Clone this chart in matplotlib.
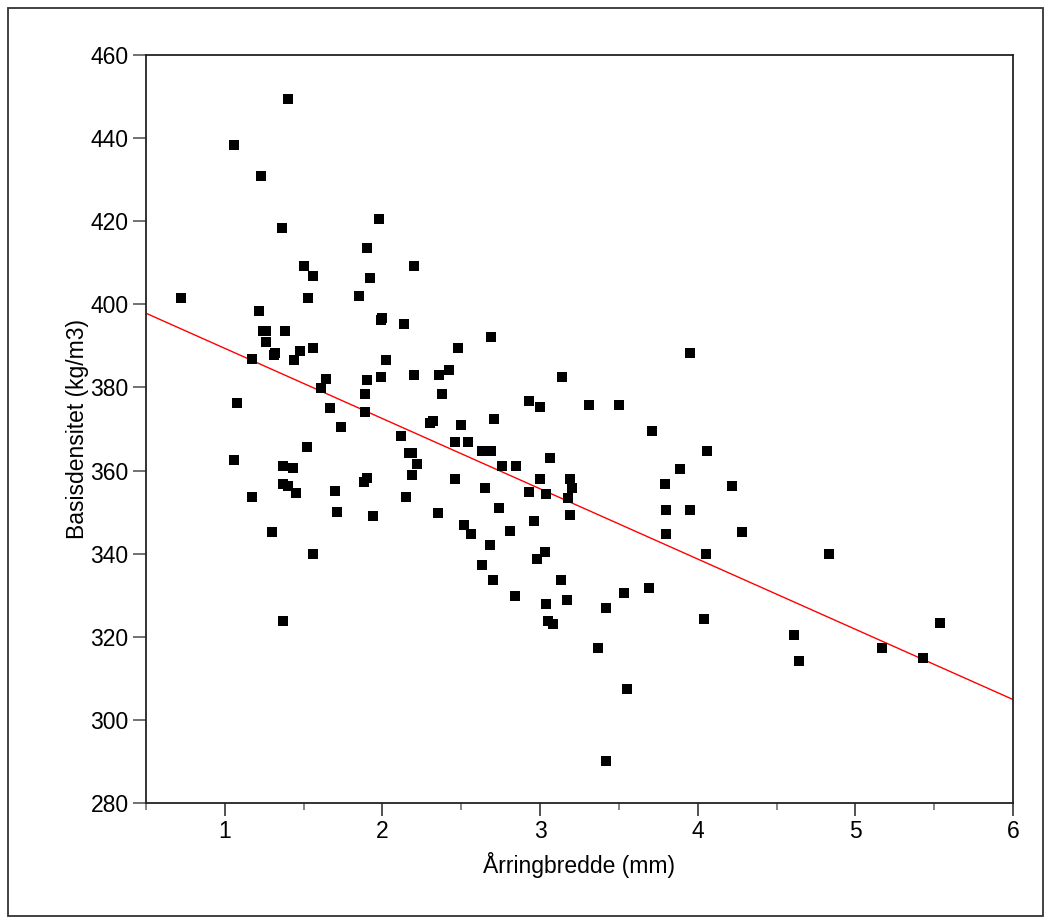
import matplotlib
matplotlib.use('Agg')
import matplotlib.pyplot as plt
from matplotlib.patches import Rectangle
import numpy as np

plt.rcParams['font.family'] = ['Liberation Sans', 'DejaVu Sans']

# Årringbredde (mm) vs basisdensitet (kg/m3)
arringbredde = [
    0.72, 1.06, 1.23, 1.40, 1.36, 1.22, 1.24, 1.26, 1.26, 1.17,
    1.31, 1.32, 1.38, 1.44, 1.48, 1.50, 1.56, 1.53, 1.56, 1.64,
    1.61, 1.67, 1.74, 1.52, 1.06, 1.08, 1.17, 1.37, 1.43, 1.37,
    1.40, 1.45, 1.30, 1.56, 1.37, 1.70, 1.71, 1.85, 1.90, 1.92,
    1.98, 1.99, 2.00, 2.02, 1.99, 1.90, 1.89, 1.89, 1.88, 1.90,
    1.94, 2.14, 2.20, 2.20, 2.12, 2.17, 2.19, 2.22, 2.19, 2.15,
    2.36, 2.42, 2.38, 2.30, 2.32, 2.48, 2.46, 2.50, 2.54, 2.46,
    2.35, 2.52, 2.56, 2.63, 2.68, 2.70, 2.69, 2.71, 2.63, 2.69,
    2.65, 2.74, 2.76, 2.85, 2.81, 2.84, 2.93, 3.00, 3.00, 2.93,
    2.96, 3.06, 3.04, 3.14, 3.19, 3.20, 3.18, 3.19, 2.98, 3.03,
    3.13, 3.04, 3.05, 3.08, 3.17, 3.31, 3.50, 3.37, 3.42, 3.53,
    3.55, 3.42, 3.69, 3.71, 3.95, 3.89, 3.79, 3.80, 3.80, 3.95,
    4.06, 4.05, 4.04, 4.22, 4.28, 4.61, 4.64, 4.83, 5.17, 5.43,
    5.54,
]
basisdensitet = [
    401.6, 438.4, 430.9, 449.5, 418.4, 398.5, 393.6, 393.6, 390.9, 386.9,
    387.9, 388.3, 393.6, 386.5, 388.8, 409.1, 406.9, 401.6, 389.6, 382.1,
    379.8, 375.0, 370.5, 365.6, 362.5, 376.3, 353.7, 361.2, 360.7, 356.7,
    356.3, 354.5, 345.2, 339.9, 323.9, 355.0, 350.1, 401.9, 413.6, 406.4,
    420.6, 396.2, 396.8, 386.5, 382.5, 381.7, 378.5, 374.1, 357.2, 358.1,
    349.1, 395.3, 409.1, 382.9, 368.3, 364.3, 364.3, 361.6, 359.0, 353.6,
    382.9, 384.2, 378.5, 371.4, 371.8, 389.6, 366.9, 370.9, 366.9, 358.0,
    349.7, 346.9, 344.7, 337.2, 342.1, 333.7, 392.2, 372.3, 364.7, 364.7,
    355.8, 350.9, 361.2, 361.2, 345.5, 329.7, 376.7, 375.4, 358.0, 354.9,
    347.8, 362.9, 354.4, 382.4, 358.0, 355.8, 353.5, 349.2, 338.6, 340.3,
    333.7, 327.9, 323.9, 323.0, 328.8, 375.8, 375.8, 317.3, 326.9, 330.5,
    307.5, 290.1, 331.8, 369.6, 388.2, 360.3, 356.7, 350.5, 344.7, 350.5,
    364.7, 339.9, 324.3, 356.2, 345.2, 320.3, 314.1, 339.9, 317.3, 315.0,
    323.3,
]

# regression line as drawn (intercept, slope)
intercept = 406.3
slope = -16.9

fig = plt.figure(figsize=(10.51, 9.24), dpi=100)
ax = fig.add_axes([0.1389, 0.1310, 0.8249, 0.8095])

ax.plot(arringbredde, basisdensitet, 's', color='black', markersize=7.4,
        markeredgewidth=0, zorder=3)

xl = np.array([0.5, 6.0])
ax.plot(xl, intercept + slope * xl, color='red', linewidth=1.0, zorder=2)

ax.set_xlim(0.5, 6)
ax.set_ylim(280, 460)
ax.set_xticks([1, 2, 3, 4, 5, 6])
ax.set_xticks(np.arange(0.5, 6.01, 0.5), minor=True)
ax.set_yticks(np.arange(280, 461, 20))

for s in ax.spines.values():
    s.set_linewidth(1.3)
    s.set_color('#222222')

ax.tick_params(axis='x', which='major', direction='out', length=9, width=1.3,
               color='#444444', labelsize=16.5, pad=3)
ax.tick_params(axis='x', which='minor', direction='out', length=5, width=1.1,
               color='#666666')
ax.tick_params(axis='y', which='major', direction='out', length=9.5, width=1.3,
               color='#666666', labelsize=16.5, pad=3)

ax.set_xlabel('Årringbredde (mm)', fontsize=16.5, labelpad=7)
ax.set_ylabel('Basisdensitet (kg/m3)', fontsize=16.5, labelpad=1)

# outer frame round the whole figure
fig.patches.append(Rectangle((8 / 1051, 8 / 924), 1035 / 1051, 908 / 924,
                             transform=fig.transFigure, fill=False,
                             edgecolor='#333333', linewidth=1.3))

fig.savefig('out.png', dpi=100)
